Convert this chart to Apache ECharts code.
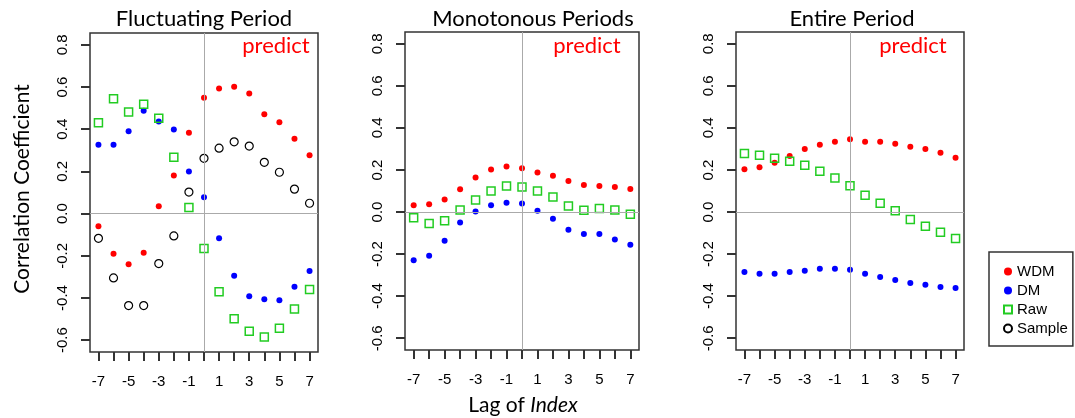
<!DOCTYPE html>
<html>
<head>
<meta charset="utf-8">
<script src="https://cdn.jsdelivr.net/npm/echarts@6/dist/echarts.min.js"></script>
<style>
  html, body { margin: 0; padding: 0; background: #fff; }
  #chart { width: 1075px; height: 418px; }
</style>
</head>
<body>
<div id="chart"></div>
<script>
// lags -7..7
var lags = [-7, -6, -5, -4, -3, -2, -1, 0, 1, 2, 3, 4, 5, 6, 7];
var xTicks = lags;
var xLabels = [-7, -5, -3, -1, 1, 3, 5, 7];
var yTicks = [-0.6, -0.4, -0.2, 0, 0.2, 0.4, 0.6, 0.8];

var panelTitles = ['Fluctuating Period', 'Monotonous Periods', 'Entire Period'];

// Fluctuating Period
var fluctWDM = [-0.06, -0.19, -0.24, -0.185, 0.035, 0.18, 0.383, 0.549, 0.593, 0.601, 0.569, 0.471, 0.433, 0.355, 0.277];
var fluctDM = [0.326, 0.326, 0.39, 0.487, 0.437, 0.399, 0.2, 0.078, -0.117, -0.295, -0.392, -0.406, -0.411, -0.347, -0.272];
var fluctRaw = [0.431, 0.544, 0.482, 0.518, 0.452, 0.267, 0.029, -0.166, -0.371, -0.498, -0.558, -0.585, -0.543, -0.452, -0.36];
var fluctSample = [-0.117, -0.305, -0.436, -0.436, -0.237, -0.106, 0.102, 0.262, 0.31, 0.34, 0.32, 0.243, 0.196, 0.116, 0.049];

// Monotonous Periods
var monoWDM = [0.032, 0.037, 0.06, 0.108, 0.164, 0.202, 0.216, 0.208, 0.188, 0.172, 0.148, 0.129, 0.124, 0.119, 0.11];
var monoDM = [-0.229, -0.208, -0.137, -0.05, 0.003, 0.032, 0.044, 0.04, 0.006, -0.032, -0.084, -0.104, -0.104, -0.131, -0.156];
var monoRaw = [-0.027, -0.054, -0.041, 0.01, 0.057, 0.1, 0.124, 0.119, 0.1, 0.072, 0.029, 0.008, 0.017, 0.01, -0.011];

// Entire Period
var entireWDM = [0.203, 0.213, 0.234, 0.267, 0.3, 0.32, 0.334, 0.346, 0.334, 0.334, 0.325, 0.31, 0.3, 0.282, 0.258];
var entireDM = [-0.285, -0.293, -0.293, -0.285, -0.279, -0.27, -0.27, -0.274, -0.293, -0.309, -0.323, -0.337, -0.346, -0.356, -0.361];
var entireRaw = [0.278, 0.27, 0.256, 0.242, 0.222, 0.194, 0.162, 0.125, 0.08, 0.042, 0.006, -0.035, -0.068, -0.096, -0.126];

var myChart = echarts.init(document.getElementById('chart'));

var tickFont = { fontFamily: 'Liberation Sans, Arial, sans-serif', fontSize: 15, color: '#000' };
var textFont = 'Lato, sans-serif';

function pairs(vals) {
  return vals.map(function (v, i) { return [lags[i], v]; });
}

var styles = {
  WDM: { symbol: 'circle', symbolSize: 6, itemStyle: { color: '#ff0000', opacity: 1 } },
  DM: { symbol: 'circle', symbolSize: 6, itemStyle: { color: '#0000ff', opacity: 1 } },
  Raw: { symbol: 'rect', symbolSize: 8, itemStyle: { color: 'rgba(255,255,255,0)', borderColor: '#22cc22', borderWidth: 1.5, opacity: 1 } },
  Sample: { symbol: 'circle', symbolSize: 8, itemStyle: { color: 'rgba(255,255,255,0)', borderColor: '#000', borderWidth: 1.2, opacity: 1 } }
};

function mkSeries(name, vals, idx, withRef) {
  var s = {
    name: name,
    type: 'scatter',
    xAxisIndex: idx,
    yAxisIndex: idx,
    symbol: styles[name].symbol,
    symbolSize: styles[name].symbolSize,
    itemStyle: styles[name].itemStyle,
    data: pairs(vals),
    silent: true
  };
  if (withRef) {
    s.markLine = {
      silent: true,
      symbol: ['none', 'none'],
      label: { show: false },
      lineStyle: { color: '#aaaaaa', width: 1, type: 'solid', opacity: 1 },
      data: [{ xAxis: 0 }, { yAxis: 0 }]
    };
  }
  return s;
}

var grids = [
  { left: 90, top: 33, width: 228, height: 319 },
  { left: 405, top: 32, width: 234, height: 318 },
  { left: 736, top: 32, width: 228, height: 318 }
];

var xAxes = [], yAxes = [];
grids.forEach(function (g, i) {
  g.show = true;
  g.borderColor = '#333';
  g.borderWidth = 1.5;
  xAxes.push({
    type: 'value', gridIndex: i, min: -7.56, max: 7.56,
    position: 'bottom',
    axisLine: { show: false, onZero: false },
    splitLine: { show: false },
    axisTick: { show: true, length: 9, customValues: xTicks, lineStyle: { color: '#333', width: 2 } },
    axisLabel: Object.assign({ customValues: xLabels, margin: 22 }, tickFont)
  });
  yAxes.push({
    type: 'value', gridIndex: i, min: -0.656, max: 0.856,
    position: 'left',
    axisLine: { show: false, onZero: false },
    splitLine: { show: false },
    axisTick: { show: true, length: 9, customValues: yTicks, lineStyle: { color: '#333', width: 2 } },
    axisLabel: Object.assign({
      customValues: yTicks, rotate: 90, margin: 20,
      formatter: function (v) { return v.toFixed(1); }
    }, tickFont)
  });
});

var titleCenters = [204, 533, 852];
var predictCenters = [276, 587, 913];
var graphics = [];
panelTitles.forEach(function (t, i) {
  graphics.push({
    type: 'text', x: titleCenters[i], y: 19,
    style: { text: t, font: '22px ' + textFont, fill: '#000', align: 'center', verticalAlign: 'middle' }
  });
  graphics.push({
    type: 'text', x: predictCenters[i], y: 46,
    style: { text: 'predict', font: '22px ' + textFont, fill: '#ff0000', align: 'center', verticalAlign: 'middle' }
  });
});
graphics.push({
  type: 'text', x: 22, y: 189, rotation: Math.PI / 2,
  style: { text: 'Correlation Coefficient', font: '21px ' + textFont, fill: '#000', align: 'center', verticalAlign: 'middle' }
});
graphics.push({
  type: 'text', x: 523, y: 405,
  style: {
    text: '{a|Lag of }{b|Index}', align: 'center', verticalAlign: 'middle',
    rich: {
      a: { font: '21px ' + textFont, fill: '#000' },
      b: { font: 'italic 21px ' + textFont, fill: '#000' }
    }
  }
});

myChart.setOption({
  animation: false,
  backgroundColor: '#fff',
  grid: grids,
  xAxis: xAxes,
  yAxis: yAxes,
  legend: {
    data: ['WDM', 'DM', 'Raw', 'Sample'],
    orient: 'vertical',
    left: 989, top: 252,
    padding: [12, 5, 10, 14],
    itemGap: 4,
    itemWidth: 8, itemHeight: 8,
    selectedMode: false,
    borderColor: '#333', borderWidth: 1.5,
    textStyle: tickFont
  },
  graphic: graphics,
  series: [
    mkSeries('WDM', fluctWDM, 0, true),
    mkSeries('DM', fluctDM, 0),
    mkSeries('Raw', fluctRaw, 0),
    mkSeries('Sample', fluctSample, 0),
    mkSeries('WDM', monoWDM, 1, true),
    mkSeries('DM', monoDM, 1),
    mkSeries('Raw', monoRaw, 1),
    mkSeries('WDM', entireWDM, 2, true),
    mkSeries('DM', entireDM, 2),
    mkSeries('Raw', entireRaw, 2)
  ]
});
</script>
</body>
</html>
